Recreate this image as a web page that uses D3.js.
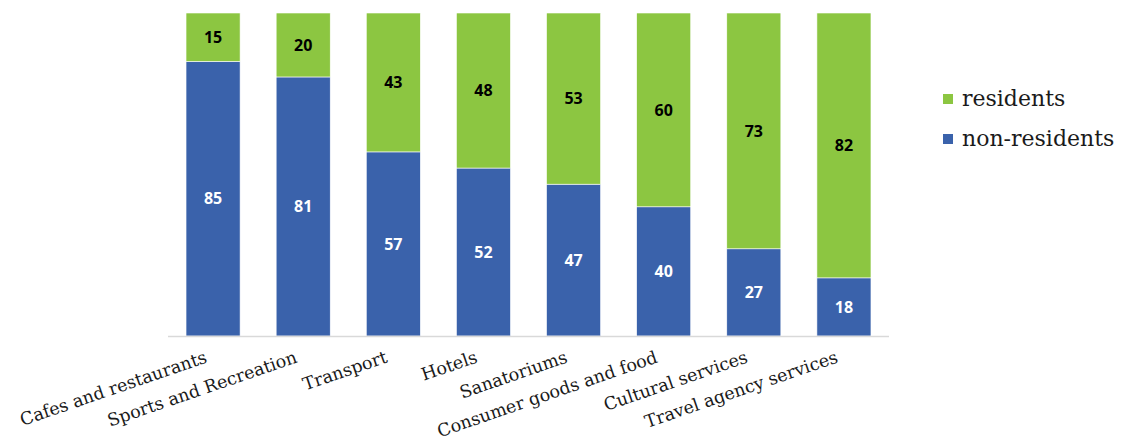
<!DOCTYPE html>
<html>
<head>
<meta charset="utf-8">
<script src="https://cdn.jsdelivr.net/npm/d3@7"></script>
<style>
  body { margin: 0; background: #fff; }
</style>
</head>
<body>
<svg id="chart" width="1122" height="444"></svg>
<script>
const categories = ["Cafes and restaurants", "Sports and Recreation", "Transport", "Hotels",
    "Sanatoriums", "Consumer goods and food", "Cultural services", "Travel agency services"];
const nonResidents = [85, 81, 57, 52, 47, 40, 27, 18];
const residents = [15, 20, 43, 48, 53, 60, 73, 82];
const seriesNames = ["non-residents", "residents"];

const green = "#8cc641";
const blue = "#3a62ab";

const svg = d3.select("#chart");
const margin = {left: 168, right: 233, top: 13, bottom: 108};
const w = 1122 - margin.left - margin.right;
const h = 444 - margin.top - margin.bottom;

const g = svg.append("g").attr("transform", `translate(${margin.left},${margin.top})`);

const x = d3.scaleBand().domain(categories).range([0, w]).paddingInner(0.4).paddingOuter(0.2);
const y = d3.scaleLinear().domain([0, 1]).range([h, 0]);

// 100% stacked table
const table = categories.map((c, i) => ({cat: c, "non-residents": nonResidents[i], residents: residents[i]}));
const stacked = d3.stack().keys(seriesNames).offset(d3.stackOffsetExpand)(table);
const colors = {"non-residents": blue, residents: green};
const labelColors = {"non-residents": "#ffffff", residents: "#000000"};

const layer = g.selectAll("g.layer")
    .data(stacked)
    .enter()
    .append("g")
    .attr("class", "layer");

layer.selectAll("rect")
    .data(d => d.map(p => ({key: d.key, p: p})))
    .enter()
    .append("rect")
    .attr("x", d => x(d.p.data.cat))
    .attr("y", d => y(d.p[1]))
    .attr("width", x.bandwidth())
    .attr("height", d => y(d.p[0]) - y(d.p[1]))
    .attr("fill", d => colors[d.key])
    .attr("stroke", "#ffffff")
    .attr("stroke-width", 0.6);

layer.selectAll("text")
    .data(d => d.map(p => ({key: d.key, p: p})))
    .enter()
    .append("text")
    .attr("x", d => x(d.p.data.cat) + x.bandwidth() / 2)
    .attr("y", d => (y(d.p[0]) + y(d.p[1])) / 2)
    .attr("dy", "0.36em")
    .attr("text-anchor", "middle")
    .attr("font-family", "'Open Sans', 'DejaVu Sans', sans-serif")
    .attr("font-weight", "bold")
    .attr("font-size", 16)
    .attr("fill", d => labelColors[d.key])
    .text(d => d.p.data[d.key]);

// x axis line
g.append("line")
    .attr("x1", 0).attr("x2", w)
    .attr("y1", h + 0.5).attr("y2", h + 0.5)
    .attr("stroke", "#d9d9d9")
    .attr("stroke-width", 1.5);

// category labels, slanted
g.selectAll("text.cat")
    .data(categories)
    .enter()
    .append("text")
    .attr("class", "cat")
    .attr("transform", d => `translate(${x(d) + x.bandwidth() / 2 - 5},${h + 26}) rotate(-19)`)
    .attr("text-anchor", "end")
    .attr("font-family", "'DejaVu Serif', serif")
    .attr("font-size", 17.5)
    .attr("fill", "#1a1a1a")
    .text(d => d);

// legend
const legend = svg.append("g").attr("transform", "translate(943,0)");
const legendItems = [{name: "residents", color: green}, {name: "non-residents", color: blue}];
const li = legend.selectAll("g")
    .data(legendItems)
    .enter()
    .append("g")
    .attr("transform", (d, i) => `translate(0,${106 + i * 40})`);
li.append("rect")
    .attr("x", 0).attr("y", -12)
    .attr("width", 10).attr("height", 10)
    .attr("fill", d => d.color);
li.append("text")
    .attr("x", 19).attr("y", 0)
    .attr("font-family", "'DejaVu Serif', serif")
    .attr("font-size", 22)
    .attr("fill", "#1a1a1a")
    .text(d => d.name);
</script>
</body>
</html>
